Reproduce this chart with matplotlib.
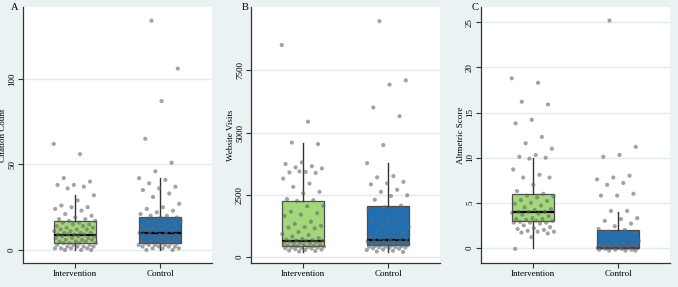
import numpy as np
import matplotlib
matplotlib.use("Agg")
import matplotlib.pyplot as plt

plt.rcParams['font.family'] = ['Liberation Serif', 'DejaVu Serif']

groups = ["Intervention", "Control"]
box_colors = ["#a3d87a", "#1f6fb4"]
bg = "#eaf2f3"

# Panel A: citation counts
cit_int = [62, 56, 42, 40, 38, 38, 37, 36, 32, 29, 26, 25, 25, 24, 23, 21, 20, 19, 18, 18,
           17, 17, 16, 16, 15, 15, 14, 14, 13, 13, 12, 12, 12, 11, 11, 10, 10, 10, 9, 9,
           9, 9, 8, 8, 8, 7, 7, 7, 6, 6, 6, 5, 5, 5, 4, 4, 4, 4, 3, 3, 3, 2, 2, 2, 2,
           1, 1, 1, 1, 0, 0, 0]
cit_ctl = [134, 106, 87, 65, 51, 46, 42, 41, 39, 37, 36, 35, 33, 31, 27, 25, 24, 23, 22, 21,
           20, 20, 19, 19, 18, 18, 17, 17, 16, 16, 15, 15, 14, 14, 13, 13, 12, 12, 11, 11,
           10, 10, 10, 9, 9, 9, 8, 8, 7, 7, 6, 6, 6, 5, 5, 5, 4, 4, 4, 4, 3, 3, 3, 3,
           2, 2, 2, 2, 1, 1, 1, 0, 0]
# box stats: whislo, q1, med, q3, whishi
cit_box = [(0, 4, 9, 17, 32), (0, 4, 10, 19, 42)]

# Panel B: website visits
web_int = [8520, 5440, 4600, 4540, 3800, 3740, 3650, 3600, 3560, 3420, 3400, 3380, 3440,
           3150, 2950, 2820, 2620, 2560, 2330, 2280, 2250, 2060, 2040, 1820, 1760, 1700,
           1650, 1420, 1330, 1250, 1200, 1180, 1150, 1000, 920, 880, 820, 760, 720, 700,
           680, 660, 650, 640, 620, 600, 580, 560, 540, 520, 500, 480, 460, 450, 440, 420,
           400, 390, 380, 360, 350, 340, 320, 300, 280, 260, 240, 220]
web_ctl = [9480, 7100, 6930, 6010, 5660, 4500, 3770, 3250, 3200, 3020, 2960, 2920, 2700,
           2620, 2480, 2450, 2300, 2060, 2000, 1900, 1850, 1700, 1620, 1520, 1450, 1400,
           1300, 1200, 1100, 1000, 950, 880, 820, 780, 740, 700, 690, 680, 660, 640, 620,
           600, 580, 560, 540, 520, 500, 490, 480, 460, 450, 440, 420, 410, 400, 390, 380,
           360, 350, 330, 300, 280, 250, 220, 200]
web_box = [(200, 460, 650, 2250, 4590), (200, 490, 690, 2050, 3760)]

# Panel C: altmetric score
alt_int = [18.8, 18.3, 16.2, 15.9, 14.2, 13.8, 12.3, 11.6, 11.0, 10.3, 10.1, 10.0, 9.9, 8.7,
           8.1, 7.8, 7.8, 7.0, 6.3, 6.0, 5.8, 5.7, 5.6, 5.3, 5.2, 5.0, 4.9, 4.7, 4.5, 4.3,
           4.2, 4.0, 4.0, 4.0, 3.9, 3.8, 3.7, 3.5, 3.3, 3.2, 3.2, 3.1, 3.0, 3.0, 2.9, 2.8,
           2.8, 2.8, 2.7, 2.5, 2.3, 2.2, 2.1, 2.0, 1.9, 1.8, 1.8, 1.7, 1.6, 1.2, -0.1]
alt_ctl = [25.2, 11.2, 10.3, 10.1, 8.0, 7.8, 7.6, 7.2, 7.0, 6.0, 5.8, 5.8, 4.1, 4.1, 3.3,
           3.2, 3.0, 2.7, 2.4, 2.1, 2.0, 1.8, 1.6, 1.4, 1.2, 1.0, 0.9, 0.8, 0.6, 0.5, 0.4,
           0.3, 0.3, 0.25, 0.2, 0.2, 0.1, 0.1, 0.05, 0, 0, 0, 0, 0, 0, 0, 0, 0, 0, -0.1,
           -0.1, -0.2, -0.2, -0.2, -0.3, -0.3, -0.3]
alt_box = [(0, 3, 4, 6, 10), (0, 0, 0, 2, 4)]

panels = [
    ("A", "Citation Count", [cit_int, cit_ctl], cit_box, [0, 50, 100], (-7.6, 142)),
    ("B", "Website Visits", [web_int, web_ctl], web_box, [0, 2500, 5000, 7500], (-243, 10050)),
    ("C", "Altmetric Score", [alt_int, alt_ctl], alt_box, [0, 5, 10, 15, 20, 25], (-1.67, 26.7)),
]

fig = plt.figure(figsize=(6.78, 2.87), dpi=100, facecolor=bg)
lefts = [23, 251, 481]
letter_x = [15, 245, 475]
fs = 6.5

for i, (letter, ylab, data, boxes, ticks, ylim) in enumerate(panels):
    ax = fig.add_axes([lefts[i] / 678, 1 - 263 / 287, 189 / 678, 256 / 287])
    ax.set_facecolor("white")
    for t in ticks:
        ax.axhline(t, color="#e3edef", lw=1.0, zorder=0)

    stats = []
    for j, b in enumerate(boxes):
        stats.append(dict(whislo=b[0], q1=b[1], med=b[2], q3=b[3], whishi=b[4], fliers=[]))
    bp = ax.bxp(stats, positions=[1, 2], widths=0.5, showcaps=False, patch_artist=True,
                boxprops=dict(edgecolor="#4d4d4d", linewidth=0.9),
                medianprops=dict(color="black", linewidth=1.6),
                whiskerprops=dict(color="#333333", linewidth=1.0))
    for patch, c in zip(bp["boxes"], box_colors):
        patch.set_facecolor(c)
        patch.set_zorder(2)

    # jittered points (deterministic spread)
    for j, vals in enumerate(data):
        n = len(vals)
        jit = ((np.arange(n) * 0.6180339887 + 0.3 * j) % 1 - 0.5) * 0.5
        ax.scatter(j + 1 + jit, vals, s=9, color="#666666", alpha=0.6,
                   edgecolors="none", zorder=3)

    ax.set_xlim(1 - 52 / 85, 2 + 52 / 85)
    ax.set_ylim(*ylim)
    ax.set_xticks([1, 2])
    ax.set_xticklabels(groups, fontsize=fs)
    ax.set_yticks(ticks)
    ax.set_yticklabels([str(t) for t in ticks], fontsize=fs, rotation=90, va="center")
    ax.set_ylabel(ylab, fontsize=fs, labelpad=1)
    ax.tick_params(length=3.5, width=0.8, color="#333333", pad=1.5)
    for s in ["top", "right"]:
        ax.spines[s].set_visible(False)
    for s in ["left", "bottom"]:
        ax.spines[s].set_color("#333333")
        ax.spines[s].set_linewidth(0.9)
    fig.text(letter_x[i] / 678, 1 - 7 / 287, letter, fontsize=7.5, ha="center", va="center")

fig.savefig("out.png", dpi=100, facecolor=bg)
